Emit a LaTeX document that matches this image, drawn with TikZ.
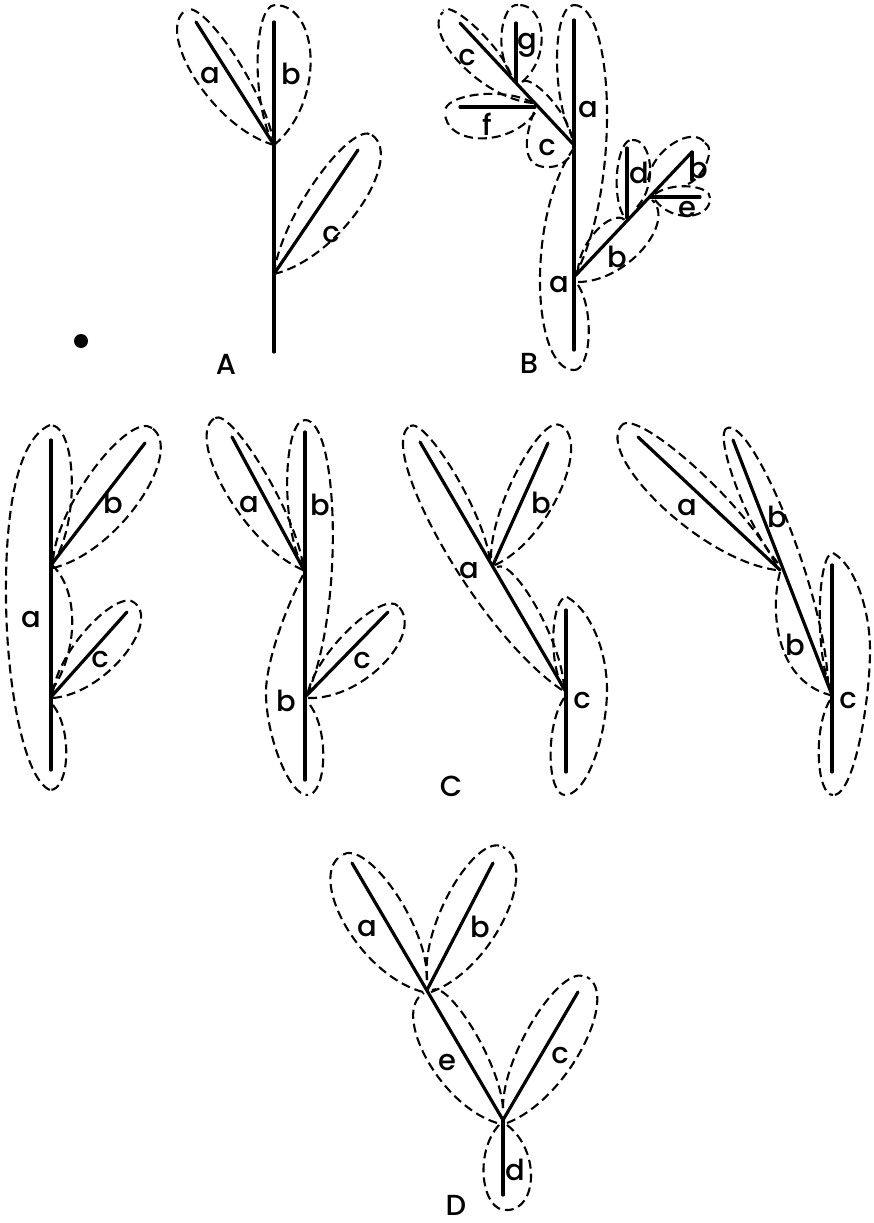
\documentclass[tikz,border=0pt]{standalone}
\usepackage{fontspec}
\setmainfont{Poppins Medium}
\tikzset{
  leafline/.style={line width=2.1pt,dash pattern=on 9pt off 5pt},
  stemline/.style={line width=3.2pt,line cap=round},
  lab/.style={inner sep=0pt,font=\fontsize{29}{29}\selectfont},
  caplab/.style={inner sep=0pt,font=\fontsize{29}{29}\selectfont}
}
\newcommand\half[5]{%
  \pgfmathsetmacro\hL{veclen(#3-(#1),#4-(#2))}%
  \pgfmathsetmacro\hux{(#3-(#1))/\hL}%
  \pgfmathsetmacro\huy{(#4-(#2))/\hL}%
  \pgfmathsetmacro\hc{(#5)/0.7125}%
  \draw[leafline] (#1,#2) .. controls ({#1+.3*\hL*\hux+\hc*\huy},{#2+.3*\hL*\huy-\hc*\hux}) and ({#3+.9*\hc*\huy},{#4-.9*\hc*\hux}) .. (#3,#4);%
}
\newcommand\lab[4]{\node[lab] (#1) at (#2,#3) {#4};}
\newcommand\caplab[4]{\node[caplab] (#1) at (#2,#3) {#4};}
\newcommand\stem[4]{\draw[stemline] (#1,#2) -- (#3,#4);}
\begin{document}
\begin{tikzpicture}[x=1pt,y=-1pt]
\useasboundingbox (0,0) rectangle (873,1223);
% dot
\fill (81,341) circle (7);
% --- A
\stem{274}{22}{274}{352}
\stem{274}{145}{196}{22}
\stem{274}{274}{358}{150}
\half{274}{145}{186}{10}{30}
\half{274}{145}{186}{10}{-16}
\half{274}{145}{275}{5}{17}
\half{274}{145}{275}{5}{-36}
\half{274}{274}{372}{135}{20}
\half{274}{274}{372}{135}{-32}
\lab{Aa}{210}{76}{a}
\lab{Ab}{291}{74}{b}
\lab{Ac}{331}{235}{c}
\caplab{A}{226}{364}{A}
% --- B
\stem{574}{20}{574}{350}
\stem{574}{145}{460}{23}
\stem{516}{23}{516}{82}
\stem{460}{107}{535}{107}
\stem{574}{277}{692}{152}
\stem{627}{148}{627}{218}
\stem{650}{197}{700}{197}
\stem{692}{152}{692}{180}
\half{574}{277}{574}{5}{-33}
\half{574}{140}{574}{5}{17}
\half{574}{148}{574}{370}{-34}
\half{578}{285}{574}{370}{13}
\half{511}{75}{443}{10}{-10}
\half{533}{103}{443}{12}{24}
\half{510}{73}{518}{5}{13}
\half{522}{82}{518}{5}{-22}
\half{533}{103}{445}{112}{-14}
\half{535}{113}{445}{112}{26}
\draw[leafline] (534,112) .. controls (520,150) and (528,166) .. (545,167) .. controls (558,168) and (568,162) .. (574,150);
\half{572}{138}{522}{82}{-10}
\half{648}{180}{705}{143}{17}
\half{688}{184}{705}{143}{-9}
\half{655}{194}{710}{198}{10}
\half{655}{200}{710}{198}{-17}
\half{623}{215}{632}{140}{11}
\half{637}{207}{632}{140}{-16}
\half{578}{272}{625}{220}{14}
\half{578}{282}{652}{200}{-26}
\lab{Bc1}{467}{58}{c}
\lab{Bg}{527}{45}{g}
\lab{Ba1}{588}{110}{a}
\lab{Bf}{487}{124}{f}
\lab{Bc2}{547}{148}{c}
\lab{Bd}{639}{173}{d}
\lab{Bb1}{698}{168}{b}
\lab{Be}{687}{210}{e}
\lab{Bb2}{617}{257}{b}
\lab{Ba2}{559}{285}{a}
\caplab{B}{529}{363}{B}
% --- C1
\stem{51}{440}{51}{770}
\stem{51}{565}{145}{443}
\stem{51}{697}{127}{612}
\draw[leafline] (50,425) .. controls (15,440) and (5,520) .. (6,600) .. controls (7,690) and (25,780) .. (50,790);
\half{52}{565}{50}{425}{-21}
\draw[leafline] (52,565) .. controls (79,590) and (79,650) .. (52,690);
\half{53}{705}{50}{790}{15}
\half{53}{560}{152}{428}{22}
\half{53}{568}{152}{428}{-32}
\half{53}{692}{135}{603}{18}
\half{53}{698}{135}{603}{-26}
\lab{Ca1}{31}{620}{a}
\lab{Cb1}{113}{503}{b}
\lab{Cc1}{100}{660}{c}
% --- C2
\stem{305}{432}{305}{780}
\stem{305}{572}{232}{437}
\stem{305}{697}{388}{612}
\half{303}{570}{215}{418}{28}
\half{303}{565}{215}{418}{-15}
\half{303}{568}{305}{420}{17}
\half{307}{695}{305}{420}{-27}
\draw[leafline] (303,575) .. controls (280,620) and (265,670) .. (266,695) .. controls (267,740) and (290,795) .. (307,795);
\half{310}{705}{307}{795}{15}
\half{308}{692}{398}{606}{17}
\half{308}{698}{398}{606}{-30}
\lab{Ca2}{249}{505}{a}
\lab{Cb2}{320}{505}{b}
\lab{Cb3}{286}{701}{b}
\lab{Cc2}{362}{661}{c}
% --- C3
\stem{420}{442}{566}{692}
\stem{493}{565}{548}{443}
\stem{566}{610}{566}{772}
\half{490}{560}{410}{426}{-14}
\half{562}{690}{410}{426}{32}
\half{564}{688}{497}{567}{-15}
\half{491}{558}{560}{425}{17}
\half{495}{565}{560}{425}{-28}
\half{563}{688}{567}{597}{12}
\half{564}{698}{565}{795}{-14}
\draw[leafline] (567,597) .. controls (590,610) and (607,650) .. (607,690) .. controls (607,730) and (590,790) .. (567,795);
\lab{Ca3}{469}{571}{a}
\lab{Cb4}{541}{503}{b}
\lab{Cc3}{582}{701}{c}
\caplab{C}{451}{786}{C}
% --- C4
\stem{638}{437}{780}{570}
\stem{733}{440}{832}{695}
\stem{832}{565}{832}{772}
\half{776}{565}{622}{425}{-18}
\half{776}{570}{622}{425}{32}
\half{778}{563}{727}{428}{12}
\half{828}{685}{727}{428}{-22}
\draw[leafline] (780,572) .. controls (770,610) and (775,680) .. (830,695);
\half{830}{688}{833}{553}{12}
\half{830}{700}{833}{795}{-13}
\draw[leafline] (833,553) .. controls (855,565) and (870,610) .. (870,650) .. controls (870,700) and (855,790) .. (835,795);
\lab{Ca4}{687}{508}{a}
\lab{Cb5}{777}{517}{b}
\lab{Cb6}{795}{645}{b}
\lab{Cc4}{848}{701}{c}
% --- D
\stem{352}{863}{503}{1120}
\stem{493}{863}{427}{990}
\stem{578}{992}{503}{1120}
\stem{503}{1120}{503}{1195}
\half{427}{980}{342}{855}{-23}
\half{423}{992}{342}{855}{33}
\half{427}{980}{503}{847}{24}
\half{431}{992}{503}{847}{-33}
\half{497}{1123}{424}{993}{30}
\half{503}{1108}{432}{990}{-15}
\half{503}{1108}{585}{977}{21}
\half{507}{1123}{587}{977}{-30}
\half{499}{1125}{507}{1210}{-20}
\half{507}{1125}{507}{1210}{24}
\lab{Da}{367}{928}{a}
\lab{Db}{480}{927}{b}
\lab{De}{447}{1062}{e}
\lab{Dc}{560}{1055}{c}
\lab{Dd}{515}{1170}{d}
\caplab{D}{456}{1205}{D}
\end{tikzpicture}
\end{document}
